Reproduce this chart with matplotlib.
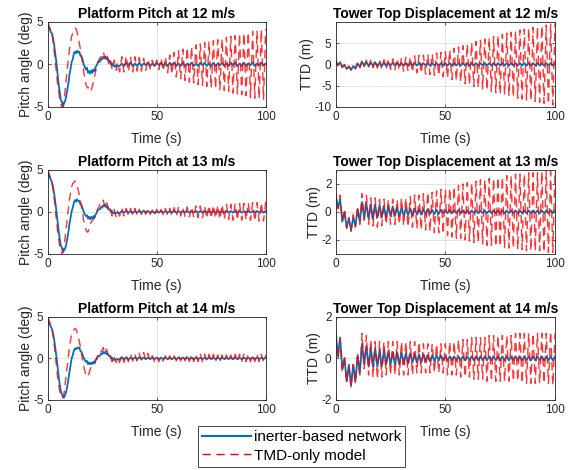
import numpy as np
import matplotlib
matplotlib.use('Agg')
import matplotlib.pyplot as plt
from matplotlib.lines import Line2D

plt.rcParams['font.family'] = ['Liberation Sans', 'DejaVu Sans']
plt.rcParams['axes.unicode_minus'] = False

BLUE = '#0072BD'
RED = '#FF0000'
DT_SLOW = 0.5      # sample step of the pitch transient (s)
DT_FAST = 1.0      # step between successive peaks/troughs (s)
T_FAST0 = 33.0     # pitch: where the peak/trough list starts

# ---------------- platform pitch (deg), transient 0..32 s every 0.5 s ----------------
pitch12_inerter_slow = [5.0, 4.3, 4.1, 3.8, 3.6, 3.0, 2.2, 1.2, 0.2, -1.1, -2.3, -3.3, -4.2, -4.4,
                        -5.0, -4.6, -4.3, -3.8, -3.0, -2.2, -1.2, -0.5, 0.3, 0.6, 1.3, 1.5, 1.3, 1.6,
                        1.4, 1.5, 1.0, 0.9, 0.6, 0.0, -0.3, -0.6, -0.4, -1.0, -0.8, -1.1, -0.7, -1.0,
                        -0.6, -0.8, -0.3, -0.1, 0.2, 0.4, 0.3, 0.7, 0.6, 0.9, 0.7, 0.9, 0.6, 0.7,
                        0.3, 0.4, 0.0, 0.1, -0.2, -0.1, -0.3, -0.1, -0.2]
pitch13_inerter_slow = [5.0, 4.3, 4.1, 3.8, 3.5, 2.9, 2.1, 1.1, 0.1, -1.1, -2.2, -3.2, -4.0, -4.3,
                        -4.8, -4.6, -4.4, -3.9, -3.2, -2.4, -1.4, -0.7, 0.1, 0.5, 1.1, 1.4, 1.2, 1.5,
                        1.3, 1.3, 0.9, 0.8, 0.4, 0.0, -0.3, -0.5, -0.4, -0.8, -0.6, -0.9, -0.6, -0.8,
                        -0.5, -0.7, -0.3, -0.1, 0.2, 0.3, 0.3, 0.6, 0.5, 0.8, 0.7, 0.9, 0.5, 0.6,
                        0.3, 0.3, 0.0, 0.1, -0.2, -0.1, -0.2, -0.1, -0.1]
pitch14_inerter_slow = [5.0, 4.3, 4.0, 3.8, 3.5, 2.9, 2.2, 1.2, 0.2, -1.0, -2.1, -3.1, -3.9, -4.3,
                        -4.6, -4.7, -4.4, -4.0, -3.3, -2.5, -1.6, -0.8, 0.0, 0.4, 0.9, 1.2, 1.1, 1.3,
                        1.2, 1.3, 0.9, 0.8, 0.4, 0.1, -0.2, -0.4, -0.3, -0.7, -0.5, -0.7, -0.5, -0.7,
                        -0.4, -0.6, -0.2, -0.1, 0.2, 0.3, 0.3, 0.6, 0.5, 0.8, 0.6, 0.8, 0.5, 0.6,
                        0.3, 0.3, 0.0, 0.1, -0.2, -0.1, -0.2, -0.1, -0.1]
pitch12_tmd_slow = [5.0, 4.6, 4.3, 4.0, 3.5, 2.6, 1.5, 0.2, -1.0, -2.2, -3.2, -4.0, -4.7, -5.0,
                    -4.9, -4.3, -3.0, -1.8, -0.5, 0.7, 1.8, 2.6, 3.3, 3.7, 4.0, 4.3, 4.2, 3.8,
                    3.2, 2.5, 1.8, 1.0, 0.1, -0.8, -1.6, -2.3, -2.7, -2.8, -2.5, -2.7, -3.0, -2.6,
                    -2.0, -1.4, -0.8, -0.3, 0.2, 0.5, 0.8, 0.9, 1.1, 1.5, 1.0, 0.7, 1.3, 0.8,
                    0.1, 0.6, 0.3, -0.6, 0.0, 0.5, -0.3, -0.7, 0.2]
pitch13_tmd_slow = [5.0, 4.6, 4.3, 4.0, 3.5, 2.6, 1.5, 0.2, -1.0, -2.2, -3.2, -4.0, -4.6, -5.0,
                    -4.8, -4.2, -3.0, -1.9, -0.8, 0.4, 1.5, 2.3, 3.0, 3.4, 3.5, 3.7, 3.5, 3.1,
                    2.6, 2.0, 1.4, 0.6, -0.2, -1.0, -1.6, -2.1, -2.4, -2.4, -2.0, -1.5, -1.2, -1.0,
                    -0.9, -0.6, -0.3, 0.0, 0.4, 0.6, 0.9, 0.8, 1.0, 1.4, 0.8, 0.6, 1.2, 0.7,
                    0.1, 0.5, 0.2, -0.5, 0.0, 0.3, -0.3, -0.6, 0.1]
pitch14_tmd_slow = [5.0, 4.6, 4.3, 4.0, 3.5, 2.7, 1.6, 0.3, -0.9, -2.1, -3.1, -3.9, -4.5, -4.8,
                    -4.7, -4.2, -3.1, -2.0, -0.9, 0.3, 1.4, 2.2, 2.9, 3.3, 3.4, 3.6, 3.5, 3.1,
                    2.6, 2.0, 1.4, 0.6, -0.2, -0.9, -1.5, -2.0, -2.2, -2.2, -1.8, -1.3, -1.0, -0.8,
                    -0.7, -0.5, -0.2, 0.1, 0.4, 0.6, 0.9, 0.8, 1.0, 1.3, 0.8, 0.6, 1.1, 0.6,
                    0.1, 0.4, 0.2, -0.4, 0.0, 0.3, -0.3, -0.5, 0.1]

# pitch peaks/troughs 33..100 s, one per second
pitch12_inerter_fast = [-0.2, 0.1, -0.2, 0.2, -0.1, 0.2, -0.2,
                        0.1, -0.2, 0.2, -0.2, 0.1, -0.1, 0.2, -0.2, 0.1, -0.2,
                        0.2, -0.1, 0.2, -0.2, 0.1, -0.2, 0.2, -0.1, 0.2, -0.2,
                        0.1, -0.2, 0.2, -0.2, 0.1, -0.1, 0.2, -0.2, 0.1, -0.2,
                        0.2, -0.1, 0.2, -0.2, 0.1, -0.2, 0.2, -0.2, 0.1, -0.1,
                        0.2, -0.2, 0.1, -0.2, 0.2, -0.1, 0.2, -0.2, 0.1, -0.2,
                        0.2, -0.2, 0.1, -0.1, 0.2, -0.2, 0.1, -0.1, 0.2, -0.1,
                        0.1]
pitch13_inerter_fast = [-0.15, 0.1, -0.1, 0.15, -0.1, 0.1, -0.15,
                        0.1, -0.1, 0.1, -0.1, 0.15, -0.1, 0.1, -0.1, 0.1, -0.15,
                        0.1, -0.1, 0.1, -0.1, 0.1, -0.1, 0.1, -0.1, 0.1, -0.1,
                        0.1, -0.1, 0.1, -0.1, 0.1, -0.1, 0.1, -0.1, 0.1, -0.1,
                        0.1, -0.1, 0.1, -0.1, 0.1, -0.1, 0.1, -0.1, 0.1, -0.1,
                        0.1, -0.1, 0.1, -0.1, 0.1, -0.1, 0.1, -0.1, 0.1, -0.1,
                        0.1, -0.1, 0.1, -0.1, 0.1, -0.1, 0.1, -0.1, 0.1, -0.1,
                        0.1]
pitch14_inerter_fast = [-0.1, 0.15, -0.1, 0.1, -0.15, 0.1, -0.1,
                        0.1, -0.1, 0.15, -0.1, 0.1, -0.1, 0.1, -0.1, 0.1, -0.1,
                        0.1, -0.1, 0.1, -0.1, 0.1, -0.1, 0.1, -0.1, 0.1, -0.1,
                        0.1, -0.1, 0.1, -0.1, 0.1, -0.1, 0.1, -0.1, 0.1, -0.1,
                        0.1, -0.1, 0.1, -0.1, 0.1, -0.1, 0.1, -0.1, 0.1, -0.1,
                        0.1, -0.1, 0.1, -0.1, 0.1, -0.1, 0.1, -0.1, 0.1, -0.1,
                        0.1, -0.1, 0.1, -0.1, 0.1, -0.1, 0.1, -0.1, 0.1, -0.1,
                        0.1]
pitch12_tmd_fast = [-0.9, 0.9, -0.9, 1.0, -0.9, 0.9, -0.9,
                    0.9, -0.8, 0.8, -0.8, 0.7, -0.7, 0.6, -0.5, 0.5, -0.5,
                    0.5, -0.6, 0.7, -0.8, 0.9, -1.0, 1.1, -1.2, 1.4, -1.5,
                    1.6, -1.7, 1.8, -1.9, 2.0, -2.1, 2.1, -2.2, 2.3, -2.4,
                    2.4, -2.5, 2.6, -2.6, 2.7, -2.8, 2.8, -2.9, 2.9, -3.0,
                    3.0, -3.1, 3.2, -3.2, 3.3, -3.4, 3.4, -3.5, 3.6, -3.6,
                    3.7, -3.7, 3.8, -3.9, 3.9, -4.0, 4.0, -4.1, 4.1, -4.2,
                    4.2]
pitch13_tmd_fast = [-0.5, 0.4, -0.5, 0.4, -0.4, 0.4, -0.4,
                    0.4, -0.4, 0.3, -0.3, 0.3, -0.3, 0.3, -0.3, 0.2, -0.5,
                    0.3, -0.3, 0.3, -0.4, 0.4, -0.4, 0.4, -0.5, 0.5, -0.5,
                    0.5, -0.5, 0.6, -0.6, 0.6, -0.6, 0.6, -0.7, 0.7, -0.7,
                    0.7, -0.7, 0.7, -0.8, 0.8, -0.8, 0.8, -0.8, 0.8, -0.9,
                    0.9, -0.9, 0.9, -0.9, 0.9, -1.0, 1.0, -1.0, 1.0, -1.0,
                    1.0, -1.0, 1.1, -1.0, 1.1, -1.1, 1.1, -1.1, 1.1, -1.1,
                    1.2]
pitch14_tmd_fast = [-0.5, 0.4, -0.5, 0.4, -0.4, 0.5, -0.3,
                    0.5, -0.3, 0.6, -0.2, 0.7, -0.2, 0.6, -0.3, 0.3, -0.4,
                    0.2, -0.4, 0.2, -0.3, 0.3, -0.3, 0.3, -0.3, 0.3, -0.3,
                    0.4, -0.3, 0.4, -0.3, 0.4, -0.4, 0.5, -0.4, 0.5, -0.4,
                    0.5, -0.4, 0.5, -0.4, 0.5, -0.4, 0.5, -0.4, 0.4, -0.4,
                    0.4, -0.3, 0.4, -0.3, 0.4, -0.4, 0.5, -0.4, 0.5, -0.4,
                    0.5, -0.4, 0.5, -0.4, 0.5, -0.4, 0.5, -0.4, 0.5, -0.4,
                    0.4]

# ---------------- tower top displacement (m), peaks/troughs 0..100 s, one per second ----------------
ttd12_inerter = [0.8, -0.2, 0.5, -0.6, -0.2, -1.1, -0.5, -1.3, -0.4, -1.0,
                 0.2, -0.6, 0.6, -0.3, 0.6, -0.4, 0.5, -0.4, 0.5, -0.4,
                 0.4, -0.4, 0.4, -0.4, 0.4, -0.3, 0.4, -0.3, 0.4, -0.3,
                 0.3, -0.3, 0.3, -0.3, 0.3, -0.3, 0.3, -0.3, 0.3, -0.3,
                 0.3, -0.3, 0.3, -0.3, 0.3, -0.3, 0.3, -0.3, 0.3, -0.3,
                 0.3, -0.3, 0.3, -0.3, 0.3, -0.3, 0.3, -0.3, 0.3, -0.3,
                 0.3, -0.3, 0.3, -0.3, 0.3, -0.3, 0.3, -0.3, 0.3, -0.3,
                 0.3, -0.3, 0.3, -0.3, 0.3, -0.3, 0.3, -0.3, 0.3, -0.3,
                 0.3, -0.3, 0.3, -0.3, 0.3, -0.3, 0.3, -0.3, 0.3, -0.3,
                 0.3, -0.3, 0.3, -0.3, 0.3, -0.3, 0.3, -0.3, 0.3, -0.3,
                 0.3]
ttd12_tmd = [1.0, -0.3, 0.6, -0.8, 0.0, -1.2, -0.4, -1.3, -0.2, -1.0,
             0.5, -0.8, 0.9, -0.5, 1.0, -0.6, 1.0, -0.8, 1.0, -0.9,
             1.1, -1.0, 1.1, -1.1, 1.2, -1.2, 1.3, -1.3, 1.4, -1.4,
             1.5, -1.6, 1.7, -1.7, 1.8, -1.9, 2.0, -2.0, 2.1, -2.1,
             2.2, -2.3, 2.4, -2.4, 2.5, -2.6, 2.7, -2.7, 2.8, -2.9,
             3.0, -3.2, 3.4, -3.6, 3.8, -3.9, 4.1, -4.2, 4.4, -4.6,
             4.8, -4.9, 5.1, -5.2, 5.4, -5.5, 5.7, -5.8, 6.0, -6.1,
             6.3, -6.4, 6.6, -6.7, 6.9, -7.0, 7.1, -7.2, 7.4, -7.5,
             7.6, -7.7, 7.9, -8.0, 8.1, -8.2, 8.3, -8.4, 8.5, -8.6,
             8.7, -8.8, 8.9, -9.0, 9.1, -9.2, 9.3, -9.4, 9.5, -9.6,
             9.6]
ttd13_inerter = [1.2, 0.3, 0.9, -0.7, 0.0, -1.1, -0.5, -1.3, -0.4, -1.0,
                 0.2, -0.7, 0.7, -0.4, 0.6, -0.5, 0.5, -0.5, 0.5, -0.4,
                 0.5, -0.4, 0.4, -0.4, 0.4, -0.3, 0.4, -0.3, 0.3, -0.3,
                 0.3, -0.3, 0.3, -0.25, 0.25, -0.25, 0.25, -0.2, 0.2, -0.2,
                 0.2, -0.2, 0.2, -0.15, 0.15, -0.15, 0.15, -0.15, 0.15, -0.1,
                 0.1, -0.1, 0.15, -0.1, 0.1, -0.1, 0.15, -0.1, 0.1, -0.1,
                 0.1, -0.1, 0.1, -0.1, 0.1, -0.1, 0.1, -0.1, 0.1, -0.1,
                 0.1, -0.1, 0.1, -0.1, 0.1, -0.1, 0.1, -0.1, 0.1, -0.1,
                 0.1, -0.1, 0.1, -0.1, 0.1, -0.1, 0.1, -0.1, 0.1, -0.1,
                 0.1, -0.1, 0.1, -0.1, 0.1, -0.1, 0.1, -0.1, 0.1, -0.1,
                 0.1]
ttd13_tmd = [1.4, 0.2, 1.2, -0.6, 0.2, -1.2, -0.4, -1.4, -0.2, -1.1,
             0.4, -0.9, 1.3, -0.6, 1.2, -0.9, 1.0, -1.0, 1.0, -1.1,
             0.9, -1.0, 0.9, -0.9, 0.9, -0.9, 0.9, -0.9, 0.9, -0.9,
             1.0, -1.0, 1.0, -1.1, 1.1, -1.1, 1.2, -1.2, 1.2, -1.3,
             1.3, -1.3, 1.4, -1.4, 1.4, -1.5, 1.5, -1.5, 1.6, -1.6,
             1.6, -1.7, 1.7, -1.8, 1.8, -1.9, 1.9, -1.9, 2.0, -2.0,
             2.1, -2.1, 2.1, -2.2, 2.2, -2.2, 2.3, -2.3, 2.3, -2.4,
             2.4, -2.4, 2.4, -2.5, 2.5, -2.5, 2.5, -2.6, 2.6, -2.6,
             2.6, -2.6, 2.7, -2.7, 2.7, -2.7, 2.7, -2.8, 2.8, -2.8,
             2.8, -2.8, 2.8, -2.8, 2.9, -2.9, 2.9, -2.9, 2.9, -2.9,
             2.9]
ttd14_inerter = [1.3, 0.1, 1.0, -0.5, 0.0, -1.1, -0.3, -1.3, -0.3, -1.1,
                 0.1, -0.7, 0.7, -0.3, 0.6, -0.4, 0.5, -0.4, 0.5, -0.4,
                 0.4, -0.4, 0.4, -0.3, 0.35, -0.3, 0.3, -0.3, 0.3, -0.3,
                 0.3, -0.25, 0.25, -0.25, 0.25, -0.2, 0.2, -0.2, 0.2, -0.2,
                 0.2, -0.15, 0.15, -0.15, 0.15, -0.15, 0.15, -0.1, 0.15, -0.1,
                 0.1, -0.1, 0.1, -0.1, 0.1, -0.1, 0.1, -0.1, 0.1, -0.1,
                 0.1, -0.1, 0.1, -0.1, 0.1, -0.1, 0.1, -0.1, 0.1, -0.1,
                 0.1, -0.1, 0.1, -0.1, 0.1, -0.1, 0.1, -0.1, 0.1, -0.1,
                 0.1, -0.1, 0.1, -0.1, 0.1, -0.1, 0.1, -0.1, 0.1, -0.1,
                 0.1, -0.1, 0.1, -0.1, 0.1, -0.1, 0.1, -0.1, 0.1, -0.1,
                 0.1]
ttd14_tmd = [1.3, 0.0, 0.9, -0.7, 0.1, -1.2, -0.4, -1.4, -0.3, -1.2,
             0.3, -0.8, 1.2, -0.5, 1.1, -0.8, 0.9, -0.9, 0.8, -1.0,
             0.8, -0.9, 0.8, -0.8, 0.8, -0.8, 0.8, -0.8, 0.8, -0.8,
             0.8, -0.8, 0.8, -0.8, 0.8, -0.8, 0.8, -0.7, 0.8, -0.7,
             0.7, -0.7, 0.7, -0.7, 0.7, -0.7, 0.7, -0.7, 0.7, -0.7,
             0.7, -0.8, 0.8, -0.8, 0.8, -0.8, 0.9, -0.9, 0.9, -0.9,
             0.9, -0.9, 1.0, -1.0, 1.0, -1.0, 1.0, -1.0, 1.0, -1.1,
             1.1, -1.1, 1.1, -1.1, 1.1, -1.1, 1.1, -1.1, 1.1, -1.1,
             1.1, -1.1, 1.2, -1.1, 1.2, -1.2, 1.2, -1.2, 1.2, -1.2,
             1.2, -1.2, 1.2, -1.2, 1.2, -1.2, 1.2, -1.2, 1.3, -1.3,
             1.2]

speeds = [12, 13, 14]
pitch_inerter = [(pitch12_inerter_slow, pitch12_inerter_fast),
                 (pitch13_inerter_slow, pitch13_inerter_fast),
                 (pitch14_inerter_slow, pitch14_inerter_fast)]
pitch_tmd = [(pitch12_tmd_slow, pitch12_tmd_fast),
             (pitch13_tmd_slow, pitch13_tmd_fast),
             (pitch14_tmd_slow, pitch14_tmd_fast)]
ttd_inerter = [ttd12_inerter, ttd13_inerter, ttd14_inerter]
ttd_tmd = [ttd12_tmd, ttd13_tmd, ttd14_tmd]
ttd_ylim = [(-10, 10), (-3, 3), (-2, 2)]
ttd_yticks = [[-10, -5, 0, 5], [-2, 0, 2], [-2, 0, 2]]


def pitch_series(slow, fast):
    t = np.concatenate([DT_SLOW * np.arange(len(slow)), T_FAST0 + DT_FAST * np.arange(len(fast))])
    return t, np.concatenate([slow, fast])


def ttd_series(vals):
    return DT_FAST * np.arange(len(vals)), np.asarray(vals)


def style(ax, ylim, yticks, ylabel, title):
    ax.set_xlim(0, 100); ax.set_ylim(*ylim)
    ax.set_xticks([0, 50, 100]); ax.set_yticks(yticks)
    ax.grid(True, color='#262626', alpha=0.15, lw=0.6)
    ax.set_axisbelow(True)
    ax.tick_params(direction='in', length=2.5, width=0.5, labelsize=8.5, colors='#262626',
                   top=True, right=True, pad=3)
    for s in ax.spines.values():
        s.set_color('#262626'); s.set_linewidth(0.6)
    ax.set_xlabel('Time (s)', fontsize=10, color='#262626', labelpad=6.5)
    ax.set_ylabel(ylabel, fontsize=10, color='#262626', labelpad=0)
    ax.set_title(title, fontsize=10, fontweight='bold', pad=3)


W, H = 579, 470
fig = plt.figure(figsize=(W / 100, H / 100), dpi=100)
rows = [(22, 106.7), (170, 253.7), (316.7, 400)]
cols = [(47.7, 265.7), (335.7, 555)]

dash_kw = dict(color=RED, lw=1.0, dashes=(6, 4), alpha=0.8)
for i, spd in enumerate(speeds):
    top, bot = rows[i]
    axp = fig.add_axes([cols[0][0] / W, 1 - bot / H, (cols[0][1] - cols[0][0]) / W, (bot - top) / H])
    axt = fig.add_axes([cols[1][0] / W, 1 - bot / H, (cols[1][1] - cols[1][0]) / W, (bot - top) / H])

    t, y = pitch_series(*pitch_inerter[i])
    axp.plot(t, y, color=BLUE, lw=1.3)
    t, y = pitch_series(*pitch_tmd[i])
    axp.plot(t, y, **dash_kw)
    style(axp, (-5, 5), [-5, 0, 5], 'Pitch angle (deg)', f'Platform Pitch at {spd} m/s')

    t, y = ttd_series(ttd_inerter[i])
    axt.plot(t, y, color=BLUE, lw=1.3)
    t, y = ttd_series(ttd_tmd[i])
    axt.plot(t, y, **dash_kw)
    style(axt, ttd_ylim[i], ttd_yticks[i], 'TTD (m)', f'Tower Top Displacement at {spd} m/s')

handles = [Line2D([], [], color=BLUE, lw=1.5),
           Line2D([], [], color=RED, lw=1.0, dashes=(6, 4))]
leg = fig.legend(handles, ['inerter-based network', 'TMD-only model'],
                 loc='lower left', bbox_to_anchor=(198 / W, 3.5 / H), fontsize=11,
                 frameon=True, fancybox=False, edgecolor='#262626', framealpha=1,
                 handlelength=3.2, handletextpad=0.2, borderpad=0.25, labelspacing=0.3,
                 borderaxespad=0)
leg.get_frame().set_linewidth(0.6)

fig.savefig('out.png', dpi=100)
